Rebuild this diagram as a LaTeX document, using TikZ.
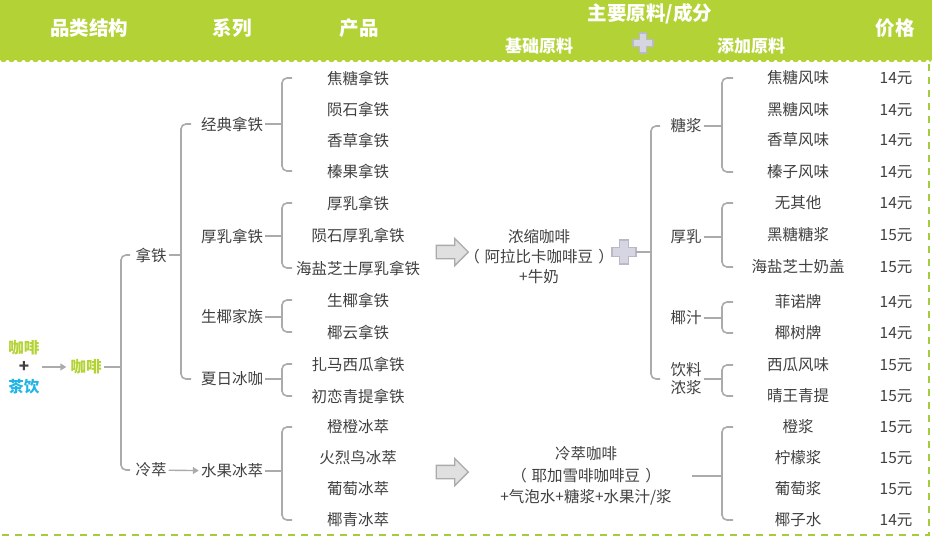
\documentclass[tikz,border=0pt]{standalone}
\usepackage{fontspec}
\setmainfont{Noto Sans CJK SC}
\usetikzlibrary{shapes.arrows,arrows.meta}
\definecolor{hdgreen}{HTML}{B2D235}
\definecolor{dashgreen}{HTML}{A2CE3C}
\definecolor{ink}{HTML}{404040}
\definecolor{wire}{HTML}{ABABAB}
\definecolor{kfgreen}{HTML}{B3D234}
\definecolor{cysky}{HTML}{23B4E6}
\definecolor{plusfill}{HTML}{D6D6E3}
\definecolor{pluswire}{HTML}{B9B9C9}

\tikzset{
  txt/.style={text=ink,font=\fontsize{15.5}{20}\selectfont,inner sep=2pt,align=center},
  hd/.style={text=white,font=\bfseries\fontsize{19.5}{22}\selectfont,inner sep=1pt},
  subhd/.style={text=white,font=\bfseries\fontsize{17}{20}\selectfont,inner sep=1pt},
  brk/.style={draw=wire,line width=1.6pt,rounded corners=5pt},
  tick/.style={draw=wire,line width=1.6pt},
  arr/.style={draw=wire,line width=1.4pt,-{Triangle[length=6pt,width=7pt]}},
  blk/.style={single arrow,draw=wire,fill=black!12,line width=1.3pt,
    minimum height=32pt,inner sep=6pt,single arrow head extend=7pt},
  plusline/.style={draw=pluswire,fill=plusfill,line width=1.2pt},
  markbox/.style={minimum size=24pt,inner sep=0pt}
}

\begin{document}
\begin{tikzpicture}[x=1pt,y=-1pt]
        \useasboundingbox (0,0) rectangle (940,539);
        \fill[hdgreen] (0,0) rectangle (932,60);
        \draw[hdgreen,line width=3pt,line cap=round,dash pattern=on 3pt off 5pt] (2,60) -- (930,60);
        \draw[dashgreen,line width=1.8pt,dash pattern=on 7pt off 6pt] (929,64) -- (929,535) -- (0,535);

        \path
        (89,28) node[hd](hpl) {品类结构}
        (232,28) node[hd](hxl) {系列}
        (359,28) node[hd](hcp) {产品}
        (650,14) node[hd](hyl) {主要原料/成分}
        (539,46) node[subhd](hjc) {基础原料}
        (751,46) node[subhd](htj) {添加原料}
        (895,28) node[hd](hjg) {价格}
        (643,43) node[markbox](hjia) {}
        ;
        \draw[plusline] (hjia.center) ++(-3.5,-10) -- ++(7,0) -- ++(0,6.5) -- ++(6.5,0) -- ++(0,7)
          -- ++(-6.5,0) -- ++(0,6.5) -- ++(-7,0) -- ++(0,-6.5) -- ++(-6.5,0) -- ++(0,-7) -- ++(6.5,0) -- cycle;

        \path
        (24,348) node[txt,text=kfgreen,font=\bfseries\fontsize{15.5}{18}\selectfont](kf0) {咖啡}
        (24,367) node[txt,text=ink,font=\bfseries\fontsize{17}{18}\selectfont](jia) {+}
        (24,387) node[txt,text=cysky,font=\bfseries\fontsize{15.5}{18}\selectfont](cy) {茶饮}
        (86,367) node[txt,text=kfgreen,font=\bfseries\fontsize{15.5}{18}\selectfont](kf) {咖啡}
        (121,0) coordinate(s1) (130,0) coordinate(a1)
        (151,255) node[txt](nt) {拿铁}
        (151,470) node[txt](lc) {冷萃}
        ;
        \draw[arr] ([xshift=11pt]jia.east) -- ([xshift=-2pt]kf.west);
        \draw[tick] (kf.east) -- (kf -| s1);
        \draw[brk] (nt -| a1) -| (kf -| s1) |- (lc -| a1);

        \path
        (181,0) coordinate(s2) (191,0) coordinate(a2)
        (232,124) node[txt](jd) {经典拿铁}
        (232,236) node[txt](hr) {厚乳拿铁}
        (232,317) node[txt](sy) {生椰家族}
        (232,379) node[txt](xr) {夏日冰咖}
        (232,471) node[txt](sg) {水果冰萃}
        ;
        \draw[tick] (nt.east) -- (nt -| s2);
        \draw[brk] (jd -| a2) -| (nt -| s2) |- (xr -| a2);
        \draw[arr] (lc) -- (sg);

        \path
        (282,0) coordinate(s3) (292,0) coordinate(a3)
        (358,78) node[txt](jt) {焦糖拿铁}
        (358,109) node[txt](ys) {陨石拿铁}
        (358,140) node[txt](xc) {香草拿铁}
        (358,171) node[txt](zg) {榛果拿铁}
        (358,203) node[txt](hn) {厚乳拿铁}
        (358,235) node[txt](yh) {陨石厚乳拿铁}
        (358,268) node[txt](hy) {海盐芝士厚乳拿铁}
        (358,300) node[txt](sn) {生椰拿铁}
        (358,332) node[txt](yy) {椰云拿铁}
        (358,364) node[txt](zm) {扎马西瓜拿铁}
        (358,396) node[txt](cl) {初恋青提拿铁}
        (358,427) node[txt](cc) {橙橙冰萃}
        (358,458) node[txt](hl) {火烈鸟冰萃}
        (358,489) node[txt](pt) {葡萄冰萃}
        (358,520) node[txt](yq) {椰青冰萃}
        ;
        \draw[tick] (jd.east) -- (jd -| s3);
        \draw[brk] (jt -| a3) -| (jd -| s3) |- (zg -| a3);
        \draw[tick] (hr.east) -- (hr -| s3);
        \draw[brk] (hn -| a3) -| (hr -| s3) |- (hy -| a3);
        \draw[tick] (sy.east) -- (sy -| s3);
        \draw[brk] (sn -| a3) -| (sy -| s3) |- (yy -| a3);
        \draw[tick] (xr.east) -- (xr -| s3);
        \draw[brk] (zm -| a3) -| (xr -| s3) |- (cl -| a3);
        \draw[tick] (sg.east) -- (sg -| s3);
        \draw[brk] (cc -| a3) -| (sg -| s3) |- (yq -| a3);

        \path
        (449,252) node[blk](ar1) {}
        (449,472) node[blk](ar2) {}
        (539,257) node[txt](jc1) {浓缩咖啡\\（\hspace{5pt}阿拉比卡咖啡豆\hspace{5pt}）\\+牛奶}
        (586,476) node[txt,font=\fontsize{15.5}{21.5}\selectfont](jc2) {冷萃咖啡\\（\hspace{5pt}耶加雪啡咖啡豆\hspace{5pt}）\\+气泡水+糖浆+水果汁/浆}
        (624,252) node[markbox](pl) {}
        ;
        \draw[plusline] (pl.center) ++(-4.5,-12) -- ++(9,0) -- ++(0,7.5) -- ++(7.5,0) -- ++(0,9)
          -- ++(-7.5,0) -- ++(0,7.5) -- ++(-9,0) -- ++(0,-7.5) -- ++(-7.5,0) -- ++(0,-9) -- ++(7.5,0) -- cycle;

        \path
        (651,0) coordinate(s4) (660,0) coordinate(a4)
        (686,126) node[txt](tj) {糖浆}
        (686,237) node[txt](hr2) {厚乳}
        (686,318) node[txt](yz) {椰汁}
        (686,379) node[txt,font=\fontsize{15.5}{18}\selectfont](yl) {饮料\\浓浆}
        ;
        \draw[tick] (pl.east) -- (pl -| s4);
        \draw[brk] (tj -| a4) -| (pl -| s4) |- (yl -| a4);

        \path
        (722,0) coordinate(s5) (733,0) coordinate(a5)
        (798,78) node[txt](jf) {焦糖风味}
        (798,110) node[txt](hf) {黑糖风味}
        (798,140) node[txt](xf) {香草风味}
        (798,172) node[txt](zf) {榛子风味}
        (798,203) node[txt](wq) {无其他}
        (798,235) node[txt](ht) {黑糖糖浆}
        (798,267) node[txt](hg) {海盐芝士奶盖}
        (798,302) node[txt](fn) {菲诺牌}
        (798,333) node[txt](ysp) {椰树牌}
        (798,365) node[txt](xg) {西瓜风味}
        (798,396) node[txt](qt) {晴王青提}
        (798,427) node[txt](cj) {橙浆}
        (798,458) node[txt](nm) {柠檬浆}
        (798,489) node[txt](pj) {葡萄浆}
        (798,520) node[txt](yzs) {椰子水}
        ;
        \draw[tick] (tj.east) -- (tj -| s5);
        \draw[brk] (jf -| a5) -| (tj -| s5) |- (zf -| a5);
        \draw[tick] (hr2.east) -- (hr2 -| s5);
        \draw[brk] (wq -| a5) -| (hr2 -| s5) |- (hg -| a5);
        \draw[tick] (yz.east) -- (yz -| s5);
        \draw[brk] (fn -| a5) -| (yz -| s5) |- (ysp -| a5);
        \draw[tick] (yl.east) -- (yl -| s5);
        \draw[brk] (xg -| a5) -| (yl -| s5) |- (qt -| a5);
        \draw[tick,shorten <=18pt] (jc2.east) -- (jc2 -| s5);
        \draw[brk] (cj -| a5) -| (jc2 -| s5) |- (yzs -| a5);

        \path
        (896,78) node[txt](p1) {14元}
        (896,110) node[txt](p2) {14元}
        (896,140) node[txt](p3) {14元}
        (896,172) node[txt](p4) {14元}
        (896,203) node[txt](p5) {14元}
        (896,235) node[txt](p6) {15元}
        (896,267) node[txt](p7) {15元}
        (896,302) node[txt](p8) {14元}
        (896,333) node[txt](p9) {14元}
        (896,365) node[txt](p10) {15元}
        (896,396) node[txt](p11) {15元}
        (896,427) node[txt](p12) {15元}
        (896,458) node[txt](p13) {15元}
        (896,489) node[txt](p14) {15元}
        (896,520) node[txt](p15) {14元}
        ;
      \end{tikzpicture}
\end{document}
